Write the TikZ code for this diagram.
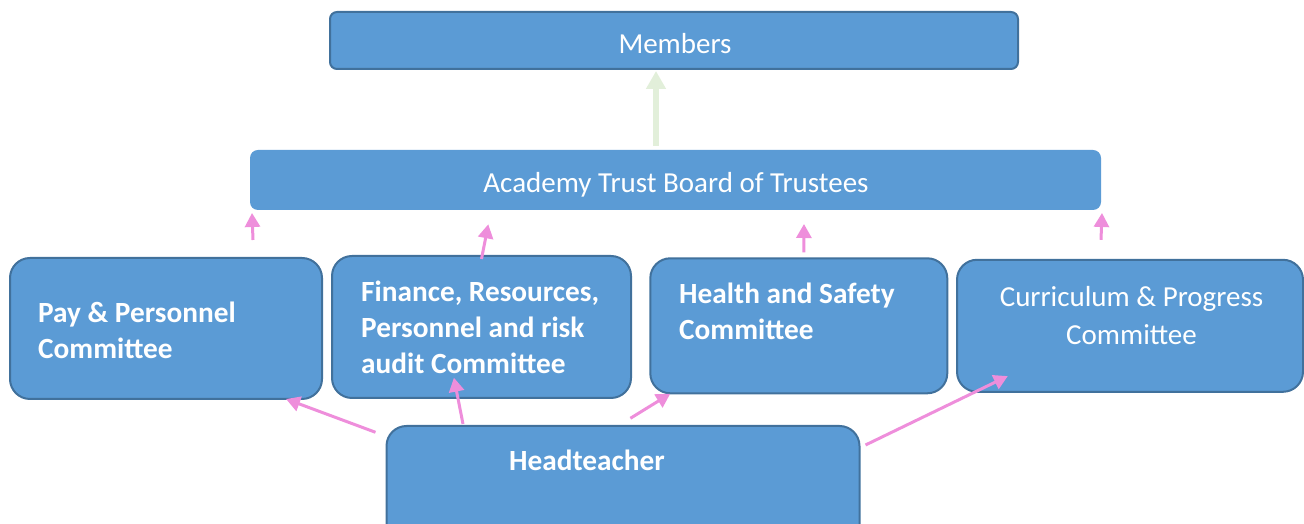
\documentclass[tikz,border=0pt]{standalone}
\usepackage{fontspec}
\setmainfont{Carlito}
\usepackage{tikz}
\usetikzlibrary{positioning,calc,arrows.meta}

\definecolor{boxblue}{HTML}{5B9BD5}
\definecolor{boxedge}{HTML}{41719C}
\definecolor{linkpink}{HTML}{EE8EDB}
\definecolor{linkgreen}{HTML}{E2EFDA}

\begin{document}
\begin{tikzpicture}[
  x=1pt,y=1pt,
  boxstyle/.style={rectangle,fill=boxblue,draw=boxedge,line width=2pt,anchor=center,inner sep=0pt},
  labelstyle/.style={text=white,inner sep=0pt,font={\fontsize{29.3}{36}\selectfont\bfseries},align=left},
  plainlabel/.style={text=white,inner sep=0pt,font={\fontsize{29}{38}\selectfont},align=center},
  uparrow/.style={draw=linkpink,line width=3pt,-{Triangle[length=14pt,width=15pt]}}
]
\useasboundingbox (0,0) rectangle (1304,524) ;

\node [boxstyle,rounded corners=7pt,minimum width=688pt,minimum height=57pt] (members) at (674,483.5) { } ;
\node [boxstyle,draw=none,rounded corners=8pt,minimum width=851pt,minimum height=60pt] (board) at (675.5,344) { } ;
\node [boxstyle,rounded corners=20pt,minimum width=312pt,minimum height=141pt] (pay) at (166,195.5) { } ;
\node [boxstyle,rounded corners=20pt,minimum width=299pt,minimum height=142pt] (finance) at (481.5,197) { } ;
\node [boxstyle,rounded corners=20pt,minimum width=297pt,minimum height=135pt] (health) at (798.8,198.2) { } ;
\node [boxstyle,rounded corners=20pt,minimum width=346pt,minimum height=132pt] (curriculum) at (1130,198.2) { } ;
\node [boxstyle,rounded corners=20pt,minimum width=473pt,minimum height=120pt] (head) at (623,38) { } ;

\node [plainlabel,anchor=base] (members label) at (675,470.5) {Members} ;
\node [plainlabel,anchor=base] (board label) at (676,331.3) {Academy Trust Board of Trustees} ;
\node [labelstyle,anchor=base west] (pay label) at (38,165.7) {Pay \& Personnel\\Committee} ;
\node [labelstyle,anchor=base west] (finance label) at (361,150.7) {Finance, Resources,\\Personnel and risk\\audit Committee} ;
\node [labelstyle,anchor=base west] (health label) at (679,184.7) {Health and Safety\\Committee} ;
\node [plainlabel,anchor=base] (curriculum label) at (1131.5,179.7) {Curriculum \& Progress\\Committee} ;
\node [labelstyle,anchor=base west] (head label) at (509,53.3) {Headteacher} ;

\draw[draw=linkgreen,line width=6pt,-{Triangle[length=18pt,width=19pt]}] ($(board.north)+(-19.5,3)$) -- ($(members.south)+(-18,-1)$) ;

\draw[uparrow] ($(pay.north)+(87,17)$) -- ($(board.south west)+(3,-2)$) ;
\draw[uparrow] ($(finance.north)+(0,-4)$) -- ($(board.south)+(-187.2,-13.3)$) ;
\draw[uparrow] ($(health.north)+(5,5)$) -- ($(board.south)+(128.5,-13)$) ;
\draw[uparrow] ($(curriculum.north)+(-29,19)$) -- ($(board.south east)+(0,-2)$) ;

\draw[uparrow] ($(head.north west)+(-10,-7.3)$) -- ($(pay.south east)+(-37,1)$) ;
\draw[uparrow] ($(head.north)+(-160,1)$) -- ($(finance.south)+(-27.6,21.3)$) ;
\draw[uparrow] ($(head.north)+(7.4,6.7)$) -- ($(health.south west)+(21,0.6)$) ;
\draw[uparrow] ($(head.north east)+(5,-20)$) -- ($(curriculum.south west)+(51.8,16.7)$) ;

\end{tikzpicture}
\end{document}
